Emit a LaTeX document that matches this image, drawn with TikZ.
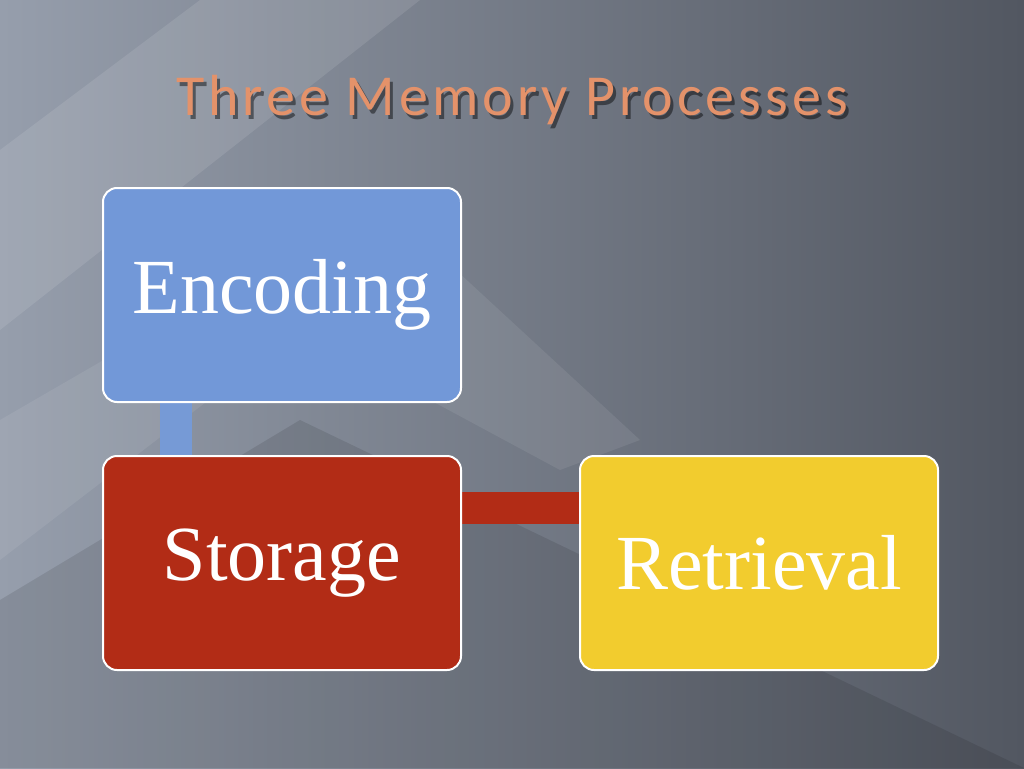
\documentclass[tikz,border=0pt]{standalone}
\usepackage{fontspec}
\setmainfont{Liberation Serif}
\newfontfamily\titlefont[LetterSpace=7]{Carlito}
\definecolor{bgl}{RGB}{150,158,172}
\definecolor{bgr}{RGB}{82,87,97}
\definecolor{ttl}{RGB}{228,146,106}
\definecolor{encc}{RGB}{114,152,216}
\definecolor{encl}{RGB}{118,154,214}
\definecolor{stoc}{RGB}{178,44,22}
\definecolor{retc}{RGB}{242,204,46}
\begin{document}
\begin{tikzpicture}[x=1pt,y=-1pt,
  proc/.style={draw=white,line width=2pt,rounded corners=14pt,minimum width=358pt,minimum height=214pt,font=\fontsize{78}{84}\selectfont,text=white,inner sep=0pt},
  ttlstyle/.style={font=\titlefont\fontsize{58}{64}\selectfont}]
\useasboundingbox (0,0) rectangle (1024,768);
\shade[left color=bgl,right color=bgr] (0,0) rectangle (1024,768);
\fill[white,opacity=0.10] (0,150) -- (200,0) -- (420,0) -- (0,330) -- cycle;
\fill[white,opacity=0.08] (0,420) -- (380,200) -- (640,440) -- (560,470) -- (300,330) -- (0,560) -- cycle;
\fill[black,opacity=0.10] (0,768) -- (0,600) -- (300,420) -- (1024,768) -- cycle;
\node[ttlstyle,text=black,opacity=0.45] (tshadow) at (515,104) {Three Memory Processes};
\node[ttlstyle,text=ttl] (title) at (512,100) {Three Memory Processes};
\fill[encl] (160,400) rectangle (192,460);
\fill[stoc] (458,492) rectangle (583,524);
\node[proc,fill=encc] (enc) at (282,295) {Encoding};
\node[proc,fill=stoc] (sto) at (282,563) {Storage};
\node[proc,fill=retc] (ret) at (759,563) {Retrieval};
\end{tikzpicture}
\end{document}
